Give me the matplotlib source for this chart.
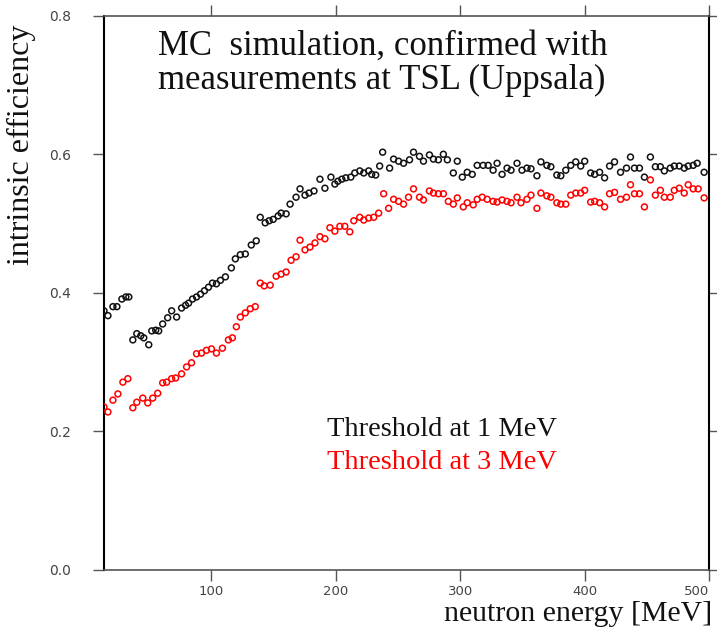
import matplotlib
matplotlib.use("Agg")
import matplotlib.pyplot as plt

# neutron energy [MeV] and intrinsic efficiency, threshold at 1 MeV
energy_1mev = [13.6, 16.8, 20.8, 24.0, 28.0, 31.2, 33.6, 36.8, 40.0, 43.2, 45.6, 49.6, 52.0, 55.2,
               57.6, 60.8, 64.8, 68.0, 72.0, 76.0, 79.2, 81.6, 84.8, 88.0, 91.2, 94.4, 97.6, 100.8,
               104.0, 107.2, 111.2, 116.0, 119.2, 123.2, 127.2, 132.0, 136.0, 139.2, 143.2, 146.4,
               149.6, 153.6, 156.0, 160.0, 163.2, 168.0, 171.2, 175.2, 178.4, 182.4, 187.2, 191.2,
               196.0, 199.2, 201.6, 204.8, 208.0, 212.0, 215.2, 219.2, 222.4, 226.4, 228.8, 232.0,
               235.2, 237.6, 243.2, 246.4, 250.4, 254.4, 259.2, 262.4, 267.2, 270.4, 275.2, 278.4,
               282.4, 286.4, 289.6, 294.4, 297.6, 301.6, 305.6, 309.6, 313.6, 318.4, 322.4, 326.4,
               329.6, 333.6, 337.6, 340.8, 345.6, 349.6, 353.6, 356.8, 361.6, 364.8, 369.6, 372.8,
               377.6, 380.8, 384.8, 388.8, 392.8, 396.8, 400.0, 404.8, 408.0, 412.0, 416.0, 420.0,
               424.0, 428.8, 433.6, 436.8, 440.0, 444.0, 448.0, 452.8, 456.8, 460.8, 464.0, 468.8,
               472.0, 476.0, 480.0, 483.2, 487.2, 490.4, 496.0]
eff_1mev = [0.374, 0.367, 0.380, 0.380, 0.391, 0.394, 0.394, 0.332, 0.341, 0.338, 0.335, 0.325, 0.345,
            0.346, 0.345, 0.355, 0.364, 0.374, 0.365, 0.378, 0.382, 0.385, 0.391, 0.394, 0.398, 0.403,
            0.408, 0.414, 0.413, 0.418, 0.423, 0.436, 0.449, 0.455, 0.456, 0.469, 0.475, 0.509, 0.501,
            0.504, 0.506, 0.511, 0.515, 0.514, 0.528, 0.538, 0.550, 0.541, 0.544, 0.547, 0.564, 0.551,
            0.567, 0.557, 0.561, 0.564, 0.566, 0.567, 0.573, 0.576, 0.573, 0.576, 0.571, 0.570, 0.583,
            0.603, 0.580, 0.593, 0.590, 0.587, 0.592, 0.603, 0.597, 0.590, 0.599, 0.593, 0.592, 0.600,
            0.592, 0.573, 0.590, 0.567, 0.574, 0.571, 0.584, 0.584, 0.584, 0.577, 0.587, 0.571, 0.580,
            0.577, 0.587, 0.577, 0.580, 0.579, 0.569, 0.589, 0.584, 0.582, 0.570, 0.569, 0.577, 0.584,
            0.589, 0.583, 0.590, 0.573, 0.571, 0.574, 0.566, 0.583, 0.589, 0.574, 0.580, 0.596, 0.580,
            0.580, 0.567, 0.596, 0.582, 0.582, 0.576, 0.580, 0.583, 0.583, 0.580, 0.583, 0.584, 0.587,
            0.574]

# threshold at 3 MeV
energy_3mev = [13.6, 16.8, 20.8, 24.8, 28.8, 32.8, 36.8, 40.0, 44.8, 48.8, 52.8, 56.8, 60.8, 64.0,
               68.0, 71.2, 76.0, 80.0, 84.0, 88.0, 92.0, 96.0, 100.0, 104.0, 108.8, 113.6, 116.8,
               120.0, 123.2, 127.2, 131.2, 135.2, 139.2, 142.4, 147.2, 152.0, 156.0, 160.0, 164.0,
               168.0, 171.2, 175.2, 179.2, 183.2, 187.2, 191.2, 195.2, 199.2, 203.2, 207.2, 211.2,
               214.4, 219.2, 222.4, 226.4, 230.4, 234.4, 238.4, 242.4, 246.4, 250.4, 254.4, 258.4,
               262.4, 267.2, 270.4, 275.2, 278.4, 282.4, 286.4, 290.4, 294.4, 297.6, 302.4, 305.6,
               310.4, 313.6, 317.6, 321.6, 326.4, 329.6, 333.6, 337.6, 340.8, 345.6, 348.8, 353.6,
               356.8, 361.6, 364.8, 369.6, 372.8, 377.6, 380.8, 384.8, 388.8, 392.8, 396.8, 400.0,
               404.8, 408.0, 412.0, 416.0, 420.0, 424.0, 428.8, 433.6, 436.8, 440.0, 444.0, 448.0,
               452.8, 456.8, 460.8, 464.0, 468.8, 472.0, 476.0, 480.0, 483.2, 487.2, 491.2, 496.0]
eff_3mev = [0.235, 0.228, 0.245, 0.254, 0.271, 0.276, 0.234, 0.242, 0.248, 0.241, 0.248, 0.255, 0.270,
            0.271, 0.276, 0.277, 0.283, 0.293, 0.299, 0.312, 0.313, 0.317, 0.319, 0.313, 0.320, 0.332,
            0.335, 0.351, 0.365, 0.371, 0.377, 0.380, 0.414, 0.410, 0.411, 0.424, 0.427, 0.430, 0.447,
            0.452, 0.476, 0.462, 0.466, 0.472, 0.481, 0.478, 0.494, 0.489, 0.496, 0.496, 0.488, 0.504,
            0.509, 0.505, 0.508, 0.509, 0.515, 0.543, 0.522, 0.535, 0.532, 0.528, 0.538, 0.550, 0.538,
            0.534, 0.547, 0.544, 0.543, 0.543, 0.532, 0.528, 0.537, 0.524, 0.530, 0.527, 0.535, 0.538,
            0.535, 0.532, 0.531, 0.534, 0.532, 0.530, 0.538, 0.530, 0.535, 0.541, 0.522, 0.544, 0.540,
            0.538, 0.530, 0.528, 0.528, 0.541, 0.544, 0.544, 0.548, 0.531, 0.532, 0.530, 0.524, 0.543,
            0.545, 0.535, 0.538, 0.556, 0.543, 0.543, 0.524, 0.563, 0.541, 0.548, 0.538, 0.538, 0.548,
            0.551, 0.544, 0.556, 0.550, 0.550, 0.537]

x_ticks = [100, 200, 300, 400, 500]
y_ticks = [0.0, 0.2, 0.4, 0.6, 0.8]

fig = plt.figure(figsize=(7.17, 6.29), dpi=100)
ax = fig.add_axes([0.145, 0.094, 0.844, 0.881])

ax.scatter(energy_1mev, eff_1mev, s=18, facecolors="none", edgecolors="#111111", linewidths=1.1, zorder=3)
ax.scatter(energy_3mev, eff_3mev, s=18, facecolors="none", edgecolors="red", linewidths=1.1, zorder=3)

ax.set_xlim(13.6, 500)
ax.set_ylim(0, 0.8)
ax.set_xticks(x_ticks)
ax.set_yticks(y_ticks)
ax.set_yticklabels([f"{v:.1f}" for v in y_ticks])

ax.tick_params(axis="both", direction="out", length=8, width=1.0, color="#555555",
               labelcolor="#444444", labelsize=9.5)
ax.tick_params(axis="y", labelsize=10, pad=16)
ax.tick_params(axis="x", pad=3)
ax.tick_params(top=True, right=True, labeltop=False, labelright=False)
# last tick label sits at the right edge of the figure
ax.get_xticklabels()[-1].set_ha("right")

for side in ["top", "bottom"]:
    ax.spines[side].set_color("#555555")
    ax.spines[side].set_linewidth(1.2)
for side in ["left", "right"]:
    ax.spines[side].set_color("black")
    ax.spines[side].set_linewidth(1.5)

serif = ["Liberation Serif", "DejaVu Serif"]
ax.text(0.09, 0.975, "MC  simulation, confirmed with\nmeasurements at TSL (Uppsala)",
        transform=ax.transAxes, ha="left", va="top", fontsize=25, family=serif,
        color="#111111", linespacing=1.05)
ax.text(0.368, 0.253, "Threshold at 1 MeV", transform=ax.transAxes, ha="left", va="center",
        fontsize=20.5, family=serif, color="#111111")
ax.text(0.368, 0.193, "Threshold at 3 MeV", transform=ax.transAxes, ha="left", va="center",
        fontsize=20.5, family=serif, color="red")

fig.text(0.03, 0.77, "intrinsic efficiency", rotation=90, ha="center", va="center",
         fontsize=23, family=serif, color="#111111")
fig.text(0.993, 0.0127, "neutron energy [MeV]", ha="right", va="baseline",
         fontsize=21.5, family=serif, color="#111111")

fig.savefig("out.png", dpi=100)
